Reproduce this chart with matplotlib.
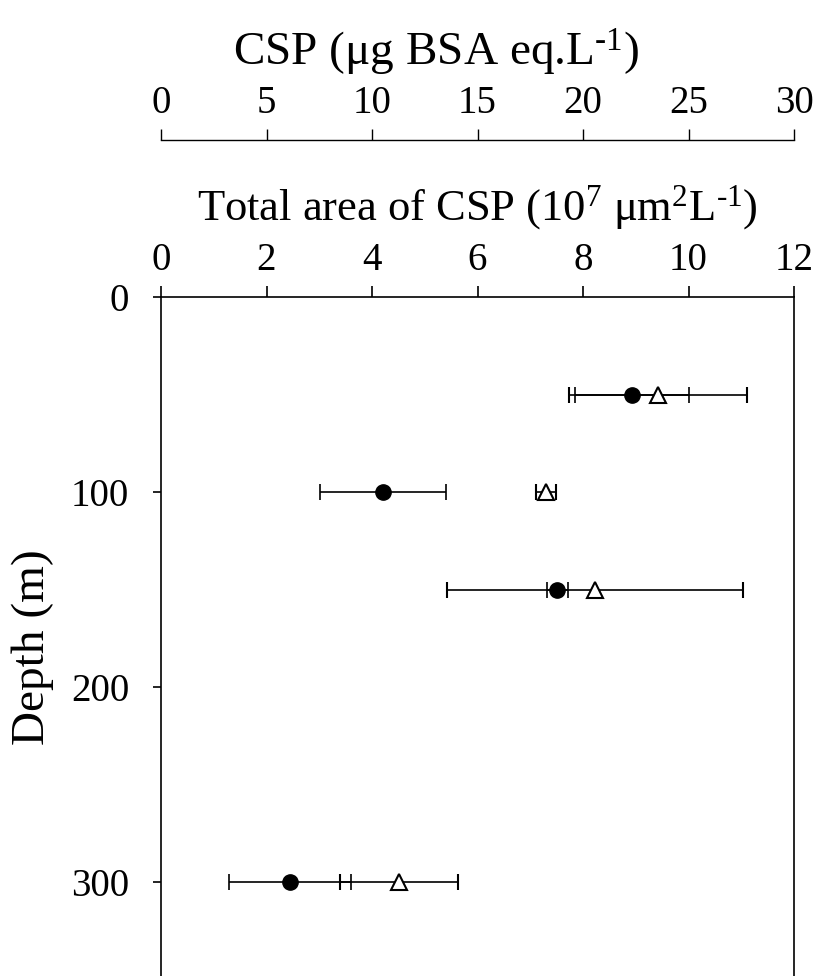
import numpy as np
import matplotlib.pyplot as plt

plt.rcParams["font.family"] = ["Liberation Serif", "DejaVu Serif"]
plt.rcParams["mathtext.fontset"] = "custom"
plt.rcParams["mathtext.rm"] = "Liberation Serif"
plt.rcParams["mathtext.it"] = "Liberation Serif:italic"
plt.rcParams["mathtext.bf"] = "Liberation Serif:bold"
plt.rcParams["mathtext.default"] = "regular"

# depth of each sample (m)
depth = [50, 100, 150, 300]

# total area of CSP (10^7 um^2 L^-1), filled circles
area_mean = [8.93, 4.21, 7.51, 2.45]
area_err = [1.08, 1.20, 0.20, 1.16]

# CSP concentration (ug BSA eq. L^-1), open triangles
csp_mean = [23.55, 18.25, 20.57, 11.28]
csp_err = [4.22, 0.47, 7.00, 2.80]

fig = plt.figure(figsize=(8.17, 9.76), dpi=100)
ax = fig.add_axes([161 / 817, -4 / 976, 633 / 817, 683 / 976])
ax2 = ax.twiny()

ax.errorbar(area_mean, depth, xerr=area_err, fmt="o", color="black",
            markersize=11, elinewidth=1.2, capsize=6, capthick=1.2, zorder=3)
ax.set_xlim(0, 12)
ax.set_ylim(350, 0)
ax.set_xticks(np.arange(0, 13, 2))
ax.set_yticks([0, 100, 200, 300])
ax.xaxis.tick_top()
ax.xaxis.set_label_position("top")
ax.tick_params(axis="x", direction="out", length=8, width=1.2, pad=5,
               labelsize=28)
ax.tick_params(axis="y", direction="out", length=6, width=1.2, pad=17,
               labelsize=28)
ax.set_xlabel(r"Total area of CSP (10$^{7}$ $\mu$m$^{2}$L$^{\text{-1}}$)",
              fontsize=32, labelpad=16)
ax.set_ylabel("Depth (m)", fontsize=34, labelpad=12)
ax.yaxis.label.set_y(0.487)
for s in ax.spines.values():
    s.set_linewidth(1.2)
ax.spines["bottom"].set_visible(False)

# second scale above the first one
ax2.errorbar(csp_mean, depth, xerr=csp_err, fmt="^", color="black",
             markerfacecolor="white", markeredgewidth=1.5, markersize=11,
             elinewidth=1.2, capsize=6, capthick=1.2, zorder=3)
ax2.set_xlim(0, 30)
ax2.set_ylim(350, 0)
ax2.set_xticks(np.arange(0, 31, 5))
ax2.spines["top"].set_position(("outward", 113))
ax2.spines["top"].set_linewidth(1.0)
for side in ["left", "right", "bottom"]:
    ax2.spines[side].set_visible(False)
ax2.tick_params(axis="x", direction="out", length=8, width=1.0, pad=5,
                labelsize=28)
ax2.set_xlabel(r"CSP ($\mu$g BSA eq.L$^{\text{-1}}$)", fontsize=34,
               labelpad=14)
ax2.xaxis.label.set_x(0.435)

fig.savefig("out.png", dpi=100)
